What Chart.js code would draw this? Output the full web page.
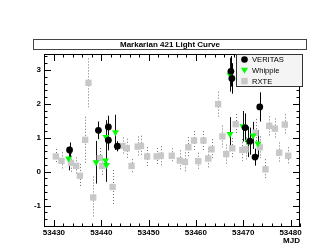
<!DOCTYPE html>
<html>
<head>
<meta charset="utf-8">
<script src="https://cdn.jsdelivr.net/npm/chart.js@4.4.1/dist/chart.umd.min.js"></script>
<style>
    html, body { margin: 0; padding: 0; background: #fff; }
    #wrap { width: 332px; height: 249px; }
</style>
</head>
<body>
<div id="wrap"><canvas id="lcChart"></canvas></div>
<script>
// Light curve values (MJD, flux, error)
const veritasMjd  = [53433.3, 53439.4, 53441.5, 53441.5, 53443.4, 53467.4, 53467.6, 53470.4, 53471.4, 53472.5, 53473.5];
const veritasFlux = [0.64, 1.22, 1.32, 0.93, 0.75, 2.96, 2.75, 1.30, 0.90, 0.43, 1.91];
const veritasErr  = [0.22, 0.26, 0.33, 0.30, 0.15, 0.45, 0.45, 0.42, 0.40, 0.25, 0.43];

const whippleMjd  = [53433.1, 53438.9, 53440.9, 53441.0, 53441.1, 53443.0, 53467.2, 53467.2, 53469.9, 53471.0, 53472.1, 53473.1];
const whippleFlux = [0.39, 0.28, 0.33, 1.02, 0.20, 1.16, 2.86, 1.11, 1.34, 0.88, 1.07, 0.83];
const whippleErr  = [0.35, 0.63, 0.60, 0.50, 0.50, 0.52, 0.50, 0.50, 0.45, 0.45, 0.40, 0.40];

const rxteMjd  = [53430.4, 53431.6, 53433.6, 53434.7, 53435.5, 53436.6, 53437.3, 53438.3, 53439.7, 53440.2,
                  53442.4, 53444.5, 53445.4, 53446.4, 53447.7, 53448.4, 53449.7, 53451.7, 53452.6, 53454.9,
                  53456.6, 53457.7, 53458.4, 53459.6, 53460.5, 53461.6, 53462.6, 53463.3, 53464.7, 53465.6,
                  53466.4, 53467.7, 53468.4, 53469.8, 53470.5, 53472.6, 53473.5, 53474.7, 53475.5, 53476.7,
                  53477.6, 53478.8, 53479.5];
const rxteFlux = [0.45, 0.32, 0.26, 0.17, -0.12, 0.94, 2.62, -0.76, 0.40, 0.17,
                  -0.45, 0.76, 0.69, 0.17, 0.74, 0.76, 0.45, 0.45, 0.47, 0.47,
                  0.33, 0.29, 0.72, 0.92, 0.31, 0.92, 0.39, 0.66, 1.99, 1.04,
                  0.52, 0.69, 1.40, 0.64, 0.66, 1.15, 0.72, 0.07, 1.35, 1.27,
                  0.56, 1.39, 0.47];
const rxteErr  = [0.22, 0.25, 0.30, 0.25, 0.35, 0.68, 0.72, 0.62, 0.30, 0.30,
                  0.50, 0.25, 0.28, 0.20, 0.30, 0.30, 0.28, 0.25, 0.28, 0.22,
                  0.30, 0.28, 0.30, 0.28, 0.25, 0.28, 0.30, 0.30, 0.37, 0.32,
                  0.28, 0.30, 0.30, 0.32, 0.35, 0.40, 0.32, 0.30, 0.28, 0.30,
                  0.30, 0.30, 0.25];

const xTickValues = [53430, 53440, 53450, 53460, 53470, 53480];
const yTickValues = [-1, 0, 1, 2, 3];

const chartTitle = 'Markarian 421 Light Curve';
const xAxisTitle = 'MJD';

function toPoints(xs, ys) {
    return xs.map((v, i) => ({ x: v, y: ys[i] }));
}

// vertical error bars, drawn under the markers
const errorBars = {
    id: 'errorBars',
    beforeDatasetsDraw(chart) {
        const { ctx, chartArea: a, scales: { x, y } } = chart;
        ctx.save();
        ctx.beginPath();
        ctx.rect(a.left, a.top, a.right - a.left, a.bottom - a.top);
        ctx.clip();
        ctx.lineWidth = 1;
        for (let i = chart.data.datasets.length - 1; i >= 0; i--) {
            const ds = chart.data.datasets[i];
            ctx.strokeStyle = ds.errColor;
            ctx.setLineDash(ds.errDash);
            ds.data.forEach((p, j) => {
                const e = ds.errors[j];
                const px = Math.round(x.getPixelForValue(p.x)) + 0.5;
                ctx.beginPath();
                ctx.moveTo(px, y.getPixelForValue(p.y + e));
                ctx.lineTo(px, y.getPixelForValue(p.y - e));
                ctx.stroke();
            });
        }
        ctx.restore();
    }
};

// ROOT style frame with inward ticks, title box and legend box
const rootDecor = {
    id: 'rootDecor',
    afterDraw(chart) {
        const { ctx, chartArea: a, scales: { x, y } } = chart;
        ctx.save();
        ctx.strokeStyle = '#000';
        ctx.lineWidth = 1;
        ctx.setLineDash([]);
        ctx.strokeRect(a.left + 0.5, a.top + 0.5, a.right - a.left - 1, a.bottom - a.top - 1);

        ctx.beginPath();
        // x ticks (major every 10, minor every 2)
        for (let v = 53428; v <= 53482; v += 2) {
            const len = xTickValues.includes(v) ? 7 : 3.5;
            const px = Math.round(x.getPixelForValue(v)) + 0.5;
            ctx.moveTo(px, a.bottom); ctx.lineTo(px, a.bottom - len);
            ctx.moveTo(px, a.top); ctx.lineTo(px, a.top + len);
        }
        // y ticks (major every 1, minor every 0.2)
        for (let k = -8; k <= 17; k++) {
            const v = k / 5;
            const len = (k % 5 === 0) ? 7 : 3.5;
            const py = Math.round(y.getPixelForValue(v)) + 0.5;
            ctx.moveTo(a.left, py); ctx.lineTo(a.left + len, py);
            ctx.moveTo(a.right, py); ctx.lineTo(a.right - len, py);
        }
        ctx.stroke();

        // title box
        ctx.fillStyle = '#fff';
        ctx.fillRect(33.5, 39.5, 273, 10);
        ctx.strokeStyle = '#444';
        ctx.strokeRect(33.5, 39.5, 273, 10);
        ctx.fillStyle = '#000';
        ctx.font = 'bold 8px "Liberation Sans", Arial, sans-serif';
        ctx.textAlign = 'center';
        ctx.textBaseline = 'middle';
        ctx.fillText(chartTitle, 170, 45);

        // legend box
        ctx.fillStyle = '#f4f4f4';
        ctx.fillRect(236.5, 54.5, 66, 32);
        ctx.strokeStyle = '#333';
        ctx.strokeRect(236.5, 54.5, 66, 32);
        ctx.font = '7.6px "Liberation Sans", Arial, sans-serif';
        ctx.textAlign = 'left';
        chart.data.datasets.forEach((ds, i) => {
            const cy = 59.5 + i * 10.8;
            const cx = 244.5;
            ctx.fillStyle = ds.backgroundColor;
            ctx.beginPath();
            if (ds.pointStyle === 'circle') {
                ctx.arc(cx, cy, 3.3, 0, Math.PI * 2);
            } else if (ds.pointStyle === 'triangle') {
                ctx.moveTo(cx - 3.5, cy - 2.5);
                ctx.lineTo(cx + 3.5, cy - 2.5);
                ctx.lineTo(cx, cy + 3.5);
                ctx.closePath();
            } else {
                ctx.rect(cx - 3.2, cy - 3.2, 6.4, 6.4);
            }
            ctx.fill();
            ctx.fillStyle = '#000';
            ctx.fillText(ds.label, 252, cy + 0.5);
        });
        ctx.restore();
    }
};

const tickFont = { family: '"Liberation Sans", Arial, sans-serif', size: 8, weight: 'bold' };

new Chart(document.getElementById('lcChart'), {
    type: 'scatter',
    data: {
        datasets: [
            {
                label: 'VERITAS',
                data: toPoints(veritasMjd, veritasFlux),
                errors: veritasErr,
                errColor: '#000',
                errDash: [],
                pointStyle: 'circle',
                pointRadius: 3.4,
                backgroundColor: '#000000',
                borderWidth: 0
            },
            {
                label: 'Whipple',
                data: toPoints(whippleMjd, whippleFlux),
                errors: whippleErr,
                errColor: '#111',
                errDash: [],
                pointStyle: 'triangle',
                rotation: 180,
                pointRadius: 4,
                backgroundColor: '#00ff00',
                borderWidth: 0
            },
            {
                label: 'RXTE',
                data: toPoints(rxteMjd, rxteFlux),
                errors: rxteErr,
                errColor: '#6e6e6e',
                errDash: [1, 2],
                pointStyle: 'rect',
                pointRadius: 4.5,
                backgroundColor: '#c8c8c8',
                borderWidth: 0
            }
        ]
    },
    plugins: [errorBars, rootDecor],
    options: {
        responsive: true,
        maintainAspectRatio: false,
        animation: false,
        layout: { padding: { top: 54, right: 32, left: 0, bottom: 0 } },
        plugins: {
            legend: { display: false },
            tooltip: { enabled: false },
            title: { display: false }
        },
        scales: {
            x: {
                type: 'linear',
                min: 53427.9,
                max: 53482,
                afterBuildTicks: (scale) => { scale.ticks = xTickValues.map(v => ({ value: v })); },
                afterFit: (scale) => { scale.height = 22; },
                grid: { display: false, drawTicks: false },
                border: { display: false },
                ticks: { font: tickFont, color: '#000', padding: 1, maxRotation: 0, callback: v => String(v) },
                title: {
                    display: true,
                    text: xAxisTitle,
                    align: 'end',
                    color: '#000',
                    font: tickFont,
                    padding: { top: 0, bottom: 3 }
                }
            },
            y: {
                type: 'linear',
                min: -1.63,
                max: 3.47,
                afterBuildTicks: (scale) => { scale.ticks = yTickValues.map(v => ({ value: v })); },
                afterFit: (scale) => { scale.width = 44; },
                grid: { display: false, drawTicks: false },
                border: { display: false },
                ticks: { font: tickFont, color: '#000', padding: 3 }
            }
        }
    }
});
</script>
</body>
</html>
